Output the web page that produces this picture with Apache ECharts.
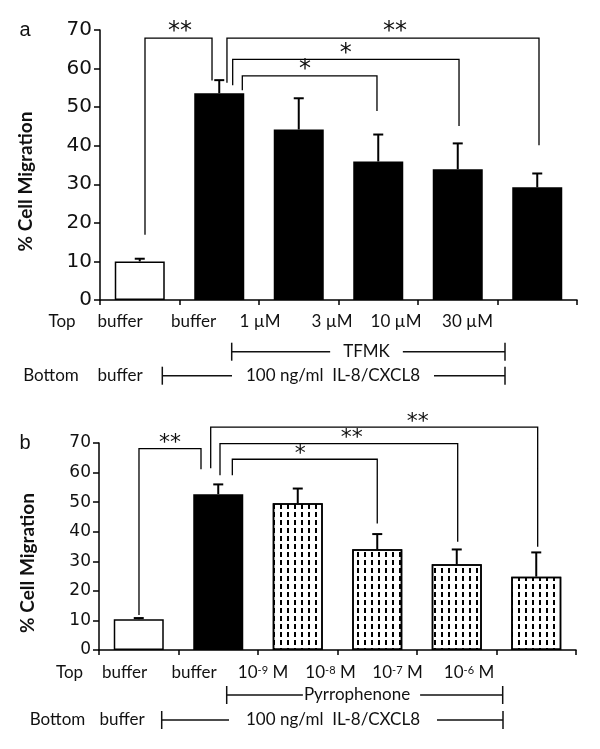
<!DOCTYPE html>
<html><head><meta charset="utf-8">
<script src="https://cdn.jsdelivr.net/npm/echarts@6/dist/echarts.min.js"></script>
<style>html,body{margin:0;padding:0;background:#fff}#c{width:600px;height:749px}</style>
</head><body><div id="c"></div>
<script>
// ---------------- data ----------------
const categoriesA = ['buffer', 'buffer', '1 µM', '3 µM', '10 µM', '30 µM'];
const valuesA = [10.0, 53.6, 44.2, 35.9, 33.9, 29.2];
const errorsA = [0.7, 3.4, 8.1, 7.0, 6.7, 3.6];
const categoriesB = ['buffer', 'buffer', '10^-9 M', '10^-8 M', '10^-7 M', '10^-6 M'];
const valuesB = [10.4, 52.7, 49.6, 34.1, 29.0, 24.8];
const errorsB = [0.4, 3.3, 5.0, 5.1, 5.0, 8.2];
const yMin = 0, yMax = 70, yStep = 10;
// brackets: [xLeft, yLeftEnd, xRight, yRightEnd, yTop, label]  (x in category units)
const bracketsA = [
  [0.066, 16.9, 0.909, 56.9, 67.9, '**'],
  [1.097, 56.3, 5.022, 40.1, 67.9, '**'],
  [1.169, 55.7, 4.016, 45.1, 62.4, '*'],
  [1.290, 54.4, 2.984, 49.0, 58.1, '*']
];
const starXA = [0.506, 3.21, 2.59, 2.079];
const bracketsB = [
  [0.003, 11.8, 0.783, 61.1, 68.1, '**'],
  [0.905, 61.5, 5.018, 34.9, 75.4, '**'],
  [1.022, 59.1, 4.012, 36.6, 69.8, '**'],
  [1.177, 59.1, 3.000, 42.8, 64.5, '*']
];
const starXB = [0.393, 3.51, 2.68, 2.03];
const rowHeadTop = 'Top', rowHeadBottom = 'Bottom', bottomBuffer = 'buffer';
const groupA = 'TFMK', groupB = 'Pyrrophenone', chemo = '100 ng/ml  IL-8/CXCL8';
const yTitle = '% Cell Migration';
const panelA = 'a', panelB = 'b';

// ---------------- layout / styles ----------------
const INK = '#111';
const LABEL_FONT = '17px Lato, "Open Sans", sans-serif';
const styleWhite = {color: '#fff', borderColor: '#000', borderWidth: 1.5};
const styleBlack = {color: '#000', borderColor: '#000', borderWidth: 1.5};
const stylePattern = {
  color: '#fff', borderColor: '#000', borderWidth: 1.5,
  decal: {symbol: 'rect', symbolSize: 1, color: '#000', rotation: 0,
    dashArrayX: [2, 5], dashArrayY: [5, 3]}
};
const barStylesA = [styleWhite, styleBlack, styleBlack, styleBlack, styleBlack, styleBlack];
const barStylesB = [styleWhite, styleBlack, stylePattern, stylePattern, stylePattern, stylePattern];

const layoutA = {grid: {left: 100, top: 30, width: 477, height: 270}, font: 20,
  topY: 322, topX: [62, 120, 193.5, 260, 332, 396, 467.5],
  groupLine: [231.7, 505, 351.7, 366.5, [0, 13]],
  botY: 375.7, botX: [51, 120], chemoLine: [162.3, 505, 375.7, 333, [0, 14]],
  panelY: 30, titleX: 25.7, titleY: 181.5, starFont: 24, starOff: 6};
const layoutB = {grid: {left: 99, top: 443, width: 477, height: 207}, font: 17,
  topY: 673, topX: [69.5, 124.5, 194, 263, 330.5, 397.5, 469],
  groupLine: [226.7, 502.7, 695, 361.5, [0, 10, 0, 1]],
  botY: 720, botX: [57.5, 122], chemoLine: [161.7, 503, 720, 333, [0, 17]],
  panelY: 443, titleX: 28, titleY: 563, starFont: 22, starOff: 5};

function richLabel(s) { return s.replace(/\^(-?\d+)/g, '{sup|$1}'); }

function labelText(text, x, y) {
  return {type: 'text', x: x, y: y, z: 10, style: {text: text, align: 'center', verticalAlign: 'middle',
    font: LABEL_FONT, fill: INK,
    rich: {sup: {fontSize: 11, fontFamily: 'Lato', verticalAlign: 'top', lineHeight: 9, fill: INK}}}};
}
function rangeLine(spec, label) {
  const [x1, x2, y, cx, pad] = spec;
  const ls = {stroke: INK, lineWidth: 1.5};
  return [
    {type: 'line', z: 5, shape: {x1: x1, y1: y, x2: x2, y2: y}, style: ls},
    {type: 'line', z: 5, shape: {x1: x1, y1: y - 9, x2: x1, y2: y + 9}, style: ls},
    {type: 'line', z: 5, shape: {x1: x2, y1: y - 9, x2: x2, y2: y + 9}, style: ls},
    {type: 'text', z: 6, x: cx, y: y, style: {text: label, align: 'center', verticalAlign: 'middle',
      font: LABEL_FONT, fill: INK, backgroundColor: '#fff', padding: pad}}
  ];
}
function panelGraphics(L, cats, group, panel) {
  const g = [];
  g.push(labelText(rowHeadTop, L.topX[0], L.topY));
  cats.forEach((c, i) => g.push(labelText(richLabel(c), L.topX[i + 1], L.topY)));
  g.push(...rangeLine(L.groupLine, group));
  g.push(labelText(rowHeadBottom, L.botX[0], L.botY));
  g.push(labelText(bottomBuffer, L.botX[1], L.botY));
  g.push(...rangeLine(L.chemoLine, chemo));
  g.push({type: 'text', x: 25, y: L.panelY, style: {text: panel, align: 'center', verticalAlign: 'middle',
    font: '20px "Liberation Sans", Arial, sans-serif', fill: INK}});
  g.push({type: 'text', x: L.titleX, y: L.titleY, rotation: Math.PI / 2, style: {text: yTitle,
    align: 'center', verticalAlign: 'middle', font: 'bold 19px Lato, sans-serif', fill: INK}});
  return g;
}

function errRender(params, api) {
  const p0 = api.coord([api.value(0), api.value(1)]);
  const p1 = api.coord([api.value(0), api.value(2)]);
  const ls = {stroke: '#000', lineWidth: 2};
  return {type: 'group', children: [
    {type: 'line', shape: {x1: p0[0], y1: p0[1], x2: p1[0], y2: p1[1]}, style: ls},
    {type: 'line', shape: {x1: p1[0] - 5, y1: p1[1], x2: p1[0] + 5, y2: p1[1]}, style: ls}
  ]};
}
function bracketRender(brackets, starX, L) {
  return function (params, api) {
    const b = brackets[params.dataIndex];
    const a = api.coord([b[0], b[1]]), at = api.coord([b[0], b[4]]);
    const ct = api.coord([b[2], b[4]]), c = api.coord([b[2], b[3]]);
    const s = api.coord([starX[params.dataIndex], b[4]]);
    return {type: 'group', children: [
      {type: 'polyline', shape: {points: [a, at, ct, c]}, style: {stroke: '#000', lineWidth: 1.3, fill: 'none'}},
      {type: 'text', style: {text: b[5], x: s[0], y: s[1] - L.starOff, align: 'center', verticalAlign: 'middle',
        font: L.starFont + 'px "DejaVu Sans", sans-serif', fill: INK}}
    ]};
  };
}

function axesFor(gi, L, cats) {
  return {
    x: [
      {type: 'category', gridIndex: gi, data: cats,
        axisLine: {show: true, onZero: false, lineStyle: {color: '#000', width: 1.5}},
        axisTick: {show: true, length: 5, lineStyle: {color: '#000', width: 1.5}},
        axisLabel: {show: false}, splitLine: {show: false}},
      {type: 'value', gridIndex: gi, min: -0.5, max: 5.5, show: false, splitLine: {show: false}}
    ],
    y: {type: 'value', gridIndex: gi, min: yMin, max: yMax, interval: yStep,
      axisLine: {show: true, onZero: false, lineStyle: {color: '#000', width: 1.5}},
      axisTick: {show: true, length: 6, lineStyle: {color: '#000', width: 1.5}},
      splitLine: {show: false},
      axisLabel: {fontFamily: '"DejaVu Sans", sans-serif', fontSize: L.font, color: INK, margin: 8}}
  };
}
const axA = axesFor(0, layoutA, categoriesA);
const axB = axesFor(1, layoutB, categoriesB);

const option = {
  animation: false,
  backgroundColor: '#fff',
  grid: [layoutA.grid, layoutB.grid],
  xAxis: [axA.x[0], axA.x[1], axB.x[0], axB.x[1]],
  yAxis: [axA.y, axB.y],
  series: [
    {type: 'bar', xAxisIndex: 0, yAxisIndex: 0, barWidth: 50,
      data: valuesA.map((v, i) => ({value: v, itemStyle: barStylesA[i]}))},
    {type: 'custom', xAxisIndex: 0, yAxisIndex: 0, renderItem: errRender, z: 3,
      data: valuesA.map((v, i) => [i, v, v + errorsA[i]])},
    {type: 'custom', xAxisIndex: 1, yAxisIndex: 0, renderItem: bracketRender(bracketsA, starXA, layoutA), z: 4, clip: false,
      data: bracketsA.map(b => [b[0], b[4]])},
    {type: 'bar', xAxisIndex: 2, yAxisIndex: 1, barWidth: 50,
      data: valuesB.map((v, i) => ({value: v, itemStyle: barStylesB[i]}))},
    {type: 'custom', xAxisIndex: 2, yAxisIndex: 1, renderItem: errRender, z: 3,
      data: valuesB.map((v, i) => [i, v, v + errorsB[i]])},
    {type: 'custom', xAxisIndex: 3, yAxisIndex: 1, renderItem: bracketRender(bracketsB, starXB, layoutB), z: 4, clip: false,
      data: bracketsB.map(b => [b[0], b[4]])}
  ],
  graphic: [...panelGraphics(layoutA, categoriesA, groupA, panelA), ...panelGraphics(layoutB, categoriesB, groupB, panelB)]
};
const chart = echarts.init(document.getElementById('c'), null, {renderer: 'canvas'});
chart.setOption(option);
</script></body></html>
